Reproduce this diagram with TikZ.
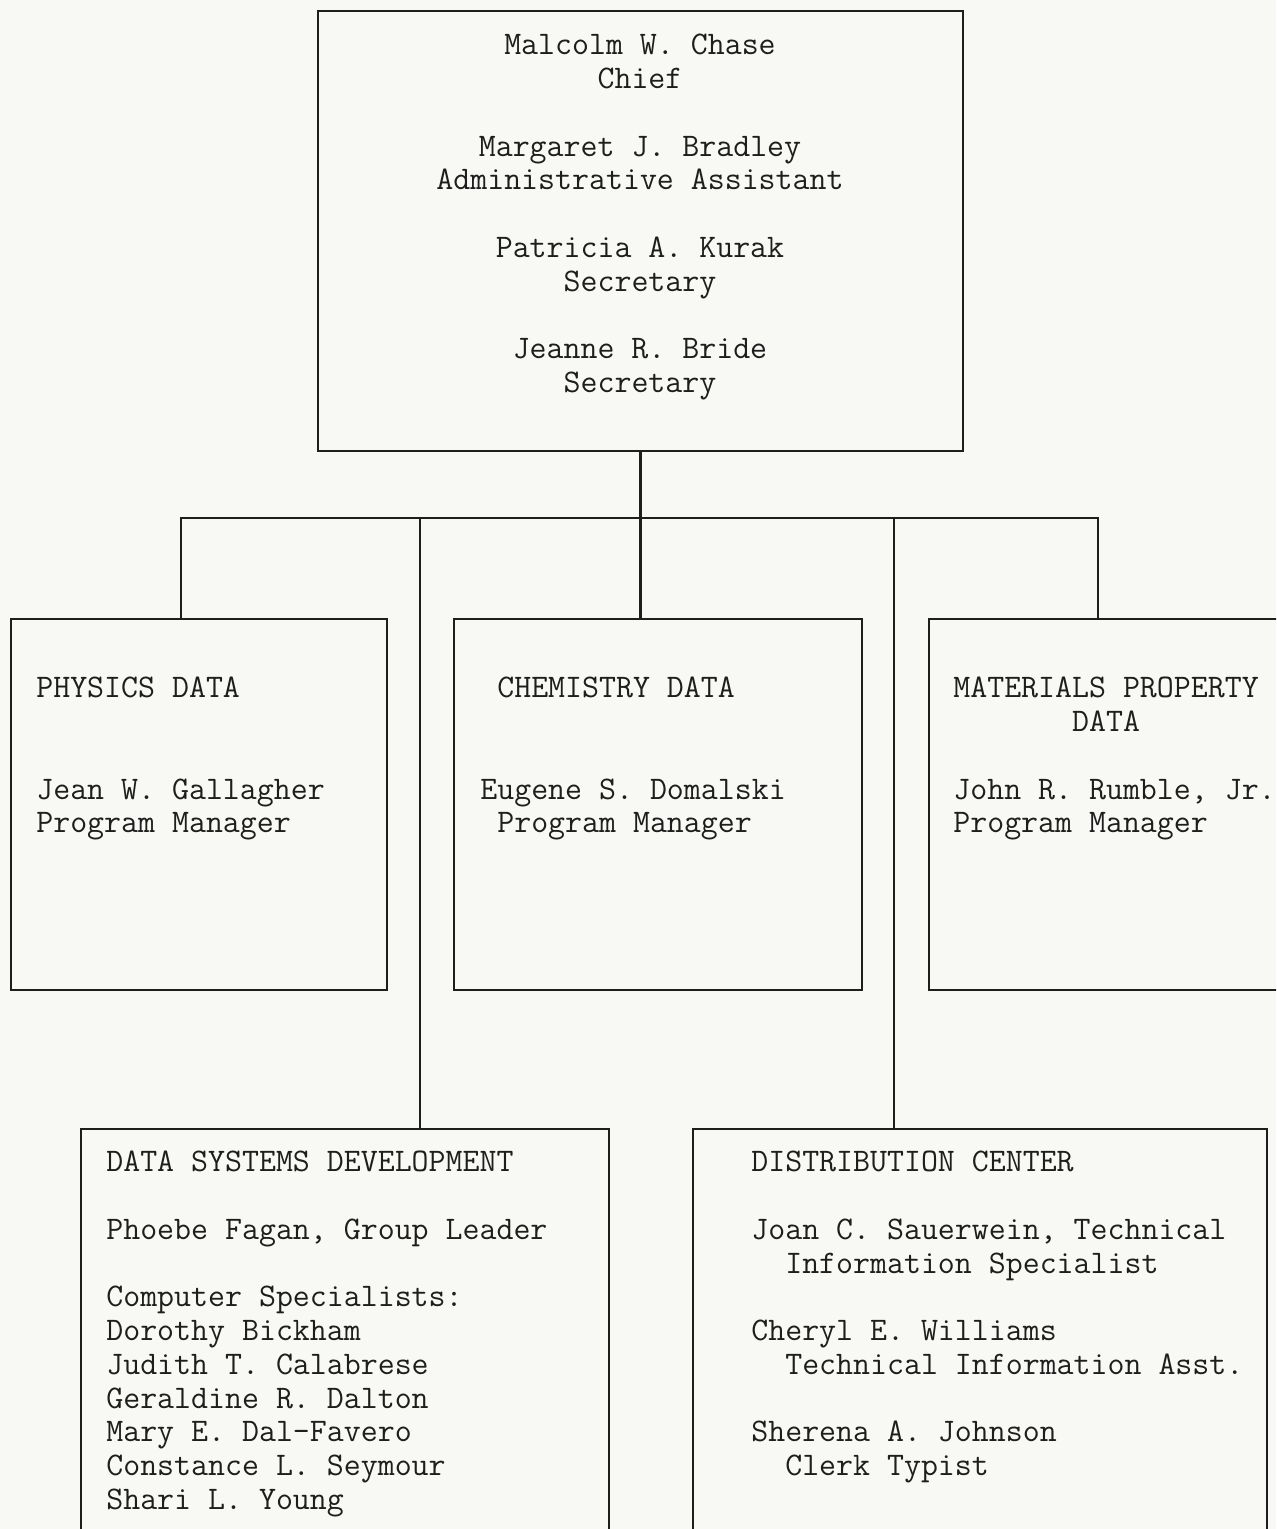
\documentclass[tikz,border=0pt]{standalone}
\usepackage{tikz}
\definecolor{paper}{RGB}{248,248,244}
\definecolor{ink}{RGB}{30,30,30}

\begin{document}
\begin{tikzpicture}[x=0.02cm,y=-0.02cm]
\tikzset{unit/.style={draw=ink, line width=1.4pt, inner sep=0pt, anchor=north west},
  wire/.style={draw=ink, line width=1.4pt},
  txt/.style={inner sep=0pt, text=ink, font=\ttfamily\fontsize{18.75}{19.2}\selectfont}}
\fill [paper] (0,0) rectangle (1276,1529);
\useasboundingbox (0,0) rectangle (1276,1529);
\clip (0,0) rectangle (1276,1529);
\node [unit, minimum width=12.9cm, minimum height=8.8cm] (chief) at (317,10) {};
\node [unit, minimum width=7.52cm, minimum height=7.42cm] (phys) at (10,618) {};
\node [unit, minimum width=8.16cm, minimum height=7.42cm] (chem) at (453,618) {};
\node [unit, minimum width=7.4cm, minimum height=7.42cm] (mat) at (928,618) {};
\node [unit, minimum width=10.56cm, minimum height=8.6cm] (dsd) at (80,1128) {};
\node [unit, minimum width=11.48cm, minimum height=8.6cm] (dist) at (692,1128) {};
\coordinate (bus) at (chief.south |- 0,518);
\coordinate (phystap) at (181,518);
\coordinate (mattap) at (1098,518);
\coordinate (dsdtap) at (420,518);
\coordinate (disttap) at (894,518);
\draw [wire] (chief.south) -- (bus);
\draw [wire] (phystap |- phys.north) -- (phystap) -- (mattap) -- (mattap |- mat.north);
\draw [wire] (bus) -- (bus |- chem.north);
\draw [wire] (dsdtap) -- (dsdtap |- dsd.north);
\draw [wire] (disttap) -- (disttap |- dist.north);
\node [txt, align=center, anchor=north] (chieftxt) at (640,34) {Malcolm W. Chase\\Chief\\[19.2pt]Margaret J. Bradley\\Administrative Assistant\\[19.2pt]Patricia A. Kurak\\Secretary\\[19.2pt]Jeanne R. Bride\\Secretary};
\node [txt, align=left, anchor=north west] (phystxt) at (36,677) {PHYSICS DATA\\[38.4pt]Jean W. Gallagher\\Program Manager};
\node [txt, align=left, anchor=north west] (chemtxt) at (480,677) {\phantom{E}CHEMISTRY DATA\\[38.4pt]Eugene S. Domalski\\\phantom{E}Program Manager};
\node [txt, align=left, anchor=north west] (mattxt) at (953,677) {MATERIALS PROPERTY\\\phantom{MATERIA}DATA\\[19.2pt]John R. Rumble, Jr.\\Program Manager};
\node [txt, align=left, anchor=north west] (dsdtxt) at (106,1151) {DATA SYSTEMS DEVELOPMENT\\[19.2pt]Phoebe Fagan, Group Leader\\[19.2pt]Computer Specialists:\\Dorothy Bickham\\Judith T. Calabrese\\Geraldine R. Dalton\\Mary E. Dal-Favero\\Constance L. Seymour\\Shari L. Young};
\node [txt, align=left, anchor=north west] (disttxt) at (751,1151) {DISTRIBUTION CENTER\\[19.2pt]Joan C. Sauerwein, Technical\\\phantom{Jo}Information Specialist\\[19.2pt]Cheryl E. Williams\\\phantom{Ch}Technical Information Asst.\\[19.2pt]Sherena A. Johnson\\\phantom{Sh}Clerk Typist};
\end{tikzpicture}
\end{document}
